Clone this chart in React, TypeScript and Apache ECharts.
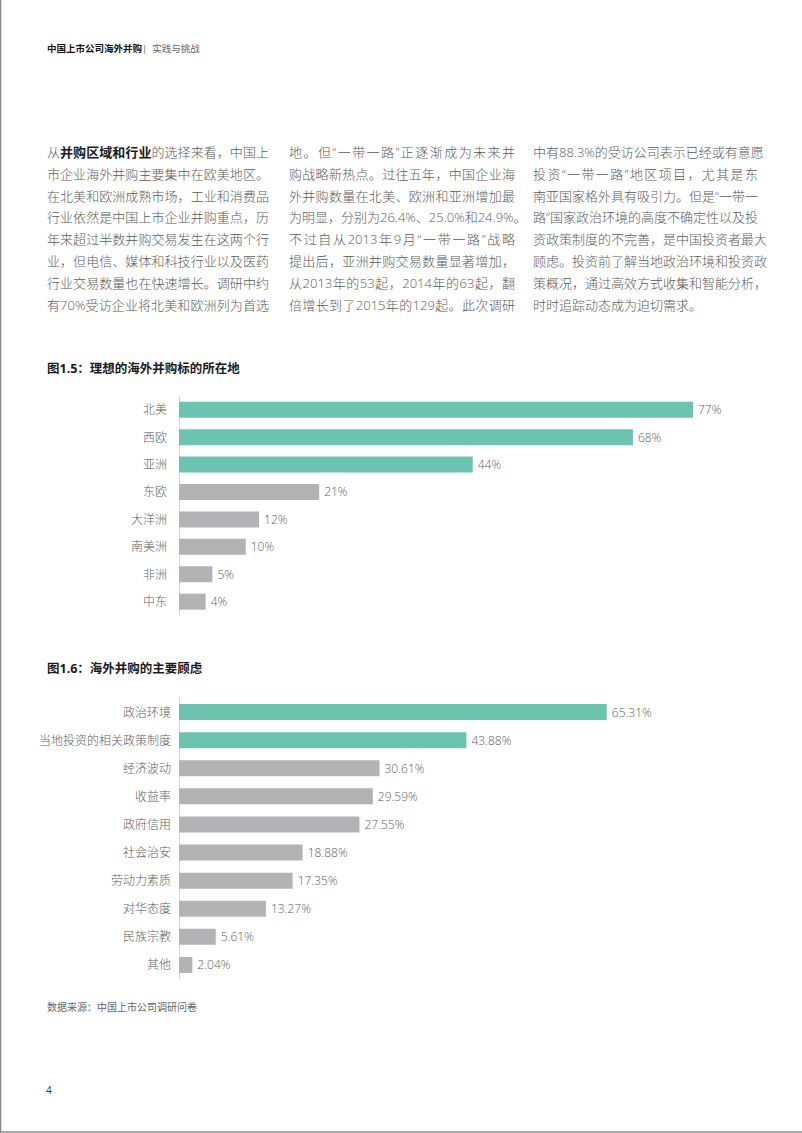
import React, { useEffect, useRef } from "react";
import * as echarts from "echarts";

const regionCategories = ["北美", "西欧", "亚洲", "东欧", "大洋洲", "南美洲", "非洲", "中东"];
const regionValues = [77, 68, 44, 21, 12, 10, 5, 4];
const regionHighlightCount = 3;

const concernCategories = [
  "政治环境",
  "当地投资的相关政策制度",
  "经济波动",
  "收益率",
  "政府信用",
  "社会治安",
  "劳动力素质",
  "对华态度",
  "民族宗教",
  "其他",
];
const concernValues = [65.31, 43.88, 30.61, 29.59, 27.55, 18.88, 17.35, 13.27, 5.61, 2.04];
const concernHighlightCount = 2;

const headerBold = "中国上市公司海外并购";
const headerLight = "实践与挑战";
const title1 = "图1.5：理想的海外并购标的所在地";
const title2 = "图1.6：海外并购的主要顾虑";
const sourceText = "数据来源：中国上市公司调研问卷";
const pageNumber = "4";

const col1Lines: (string | [string, string, string])[] = [
  ["从", "并购区域和行业", "的选择来看，中国上"],
  "市企业海外并购主要集中在欧美地区。",
  "在北美和欧洲成熟市场，工业和消费品",
  "行业依然是中国上市企业并购重点，历",
  "年来超过半数并购交易发生在这两个行",
  "业，但电信、媒体和科技行业以及医药",
  "行业交易数量也在快速增长。调研中约",
  "有70%受访企业将北美和欧洲列为首选",
];
const col2Lines: string[] = [
  "地。但“一带一路”正逐渐成为未来并",
  "购战略新热点。过往五年，中国企业海",
  "外并购数量在北美、欧洲和亚洲增加最",
  "为明显，分别为26.4%、25.0%和24.9%。",
  "不过自从2013年9月“一带一路”战略",
  "提出后，亚洲并购交易数量显著增加，",
  "从2013年的53起，2014年的63起，翻",
  "倍增长到了2015年的129起。此次调研",
];
const col3Lines: string[] = [
  "中有88.3%的受访公司表示已经或有意愿",
  "投资“一带一路”地区项目，尤其是东",
  "南亚国家格外具有吸引力。但是“一带一",
  "路”国家政治环境的高度不确定性以及投",
  "资政策制度的不完善，是中国投资者最大",
  "顾虑。投资前了解当地政治环境和投资政",
  "策概况，通过高效方式收集和智能分析，",
  "时时追踪动态成为迫切需求。",
];

const FONT = '"Open Sans", "Noto Sans CJK SC", sans-serif';
const TEAL = "#6cc3b0";
const GREY = "#b3b3b5";

function barData(values: number[], highlight: number) {
  return values.map((v, i) => ({
    value: v,
    itemStyle: { color: i < highlight ? TEAL : GREY },
  }));
}

const PARA_TOP = 142;
const LINE_H = 21.8;

function Column({
  lines,
  left,
  width,
  justifyLast,
}: {
  lines: (string | [string, string, string])[];
  left: number;
  width: number;
  justifyLast: boolean;
}) {
  return (
    <>
      {lines.map((ln, i) => {
        const isLast = i === lines.length - 1;
        const justify = !isLast || justifyLast;
        return (
          <div
            key={i}
            lang="zh-CN"
            style={{
              position: "absolute",
              left,
              top: PARA_TOP + i * LINE_H,
              width,
              height: LINE_H,
              lineHeight: LINE_H + "px",
              fontSize: 13,
              fontWeight: 300,
              color: "#5a5a5a",
              fontFamily: FONT,
              textAlign: justify ? "justify" : "left",
              textAlignLast: justify ? "justify" : "left",
              whiteSpace: "nowrap",
            }}
          >
            {typeof ln === "string" ? (
              ln
            ) : (
              <>
                {ln[0]}
                <b style={{ color: "#1a1a1a", fontWeight: 700 }}>{ln[1]}</b>
                {ln[2]}
              </>
            )}
          </div>
        );
      })}
    </>
  );
}

export default function App() {
  const ref = useRef<HTMLDivElement>(null);

  useEffect(() => {
    if (!ref.current) return;
    const chart = echarts.init(ref.current, null, { renderer: "svg" });
    const labelStyle = {
      color: "#606060",
      fontSize: 12,
      fontWeight: 300,
      fontFamily: FONT,
    };
    chart.setOption({
      animation: false,
      backgroundColor: "#ffffff",
      grid: [
        { left: 179, top: 396, width: 534, height: 219.4 },
        { left: 179, top: 698, width: 524, height: 281 },
      ],
      xAxis: [
        { type: "value", gridIndex: 0, min: 0, max: 80, show: false },
        { type: "value", gridIndex: 1, min: 0, max: 80, show: false },
      ],
      yAxis: [
        {
          type: "category",
          gridIndex: 0,
          data: regionCategories,
          inverse: true,
          axisLine: { lineStyle: { color: "#d6d6d6", width: 1 } },
          axisTick: { show: false },
          axisLabel: { ...labelStyle, margin: 12 },
          splitLine: { show: false },
        },
        {
          type: "category",
          gridIndex: 1,
          data: concernCategories,
          inverse: true,
          axisLine: { lineStyle: { color: "#d6d6d6", width: 1 } },
          axisTick: { show: false },
          axisLabel: { ...labelStyle, margin: 8 },
          splitLine: { show: false },
        },
      ],
      series: [
        {
          type: "bar",
          xAxisIndex: 0,
          yAxisIndex: 0,
          barWidth: 16,
          data: barData(regionValues, regionHighlightCount),
          label: {
            show: true,
            position: "right",
            distance: 5,
            ...labelStyle,
            formatter: (p: any) => `${p.value}%`,
          },
        },
        {
          type: "bar",
          xAxisIndex: 1,
          yAxisIndex: 1,
          barWidth: 16,
          data: barData(concernValues, concernHighlightCount),
          label: {
            show: true,
            position: "right",
            distance: 5,
            ...labelStyle,
            formatter: (p: any) => `${Number(p.value).toFixed(2)}%`,
          },
        },
      ],
      graphic: [
        {
          type: "line",
          shape: { x1: 0.5, y1: 0, x2: 0.5, y2: 1133 },
          style: { stroke: "#8a8a8a", lineWidth: 1.5 },
        },
        {
          type: "line",
          shape: { x1: 0, y1: 1132, x2: 802, y2: 1132 },
          style: { stroke: "#8a8a8a", lineWidth: 1.5 },
        },
        {
          type: "text",
          left: 47,
          top: 44,
          style: {
            text: headerBold,
            fontSize: 9.5,
            fontWeight: "bold",
            fill: "#111",
            fontFamily: FONT,
          },
        },
        {
          type: "text",
          left: 142,
          top: 44,
          style: {
            text: "|  " + headerLight,
            fontSize: 9.5,
            fill: "#666",
            fontFamily: FONT,
          },
        },
        {
          type: "text",
          left: 47,
          top: 362,
          style: {
            text: title1,
            fontSize: 12.5,
            fontWeight: "bold",
            fill: "#1a1a1a",
            fontFamily: FONT,
          },
        },
        {
          type: "text",
          left: 47,
          top: 662,
          style: {
            text: title2,
            fontSize: 12.5,
            fontWeight: "bold",
            fill: "#1a1a1a",
            fontFamily: FONT,
          },
        },
        {
          type: "text",
          left: 47,
          top: 1002,
          style: {
            text: sourceText,
            fontSize: 10,
            fill: "#666",
            fontFamily: FONT,
          },
        },
        {
          type: "text",
          left: 46,
          top: 1085,
          style: {
            text: pageNumber,
            fontSize: 10,
            fill: "#333",
            fontFamily: FONT,
          },
        },
      ],
    });
    return () => chart.dispose();
  }, []);

  return (
    <div style={{ position: "absolute", left: 0, top: 0, width: 802, height: 1133, background: "#fff" }}>
      <div ref={ref} style={{ position: "absolute", left: 0, top: 0, width: 802, height: 1133 }} />
      <Column lines={col1Lines} left={47} width={222} justifyLast={true} />
      <Column lines={col2Lines} left={289} width={226} justifyLast={true} />
      <Column lines={col3Lines} left={533} width={225} justifyLast={false} />
    </div>
  );
}
